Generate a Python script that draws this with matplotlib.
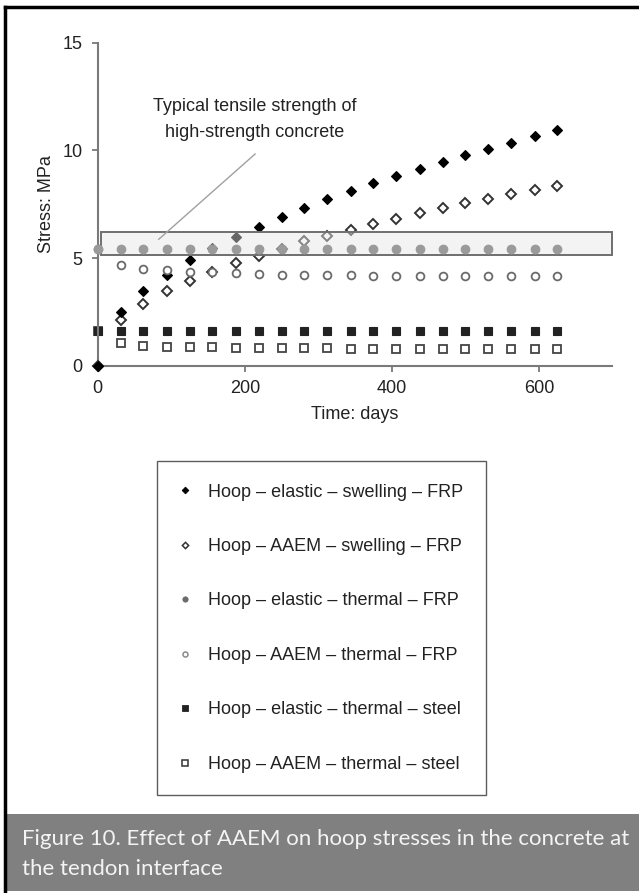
import matplotlib.pyplot as plt
from matplotlib.lines import Line2D
from matplotlib.patches import Rectangle

# time axis (days) shared by every series
days = [0, 31, 62, 94, 125, 156, 188, 219, 250, 281, 312,
        344, 375, 406, 438, 469, 500, 531, 562, 594, 625]

# hoop stress, MPa
elastic_swelling_frp = [0, 2.48, 3.45, 4.21, 4.89, 5.45, 5.99, 6.44, 6.9, 7.34, 7.72,
                        8.11, 8.47, 8.82, 9.15, 9.47, 9.77, 10.08, 10.36, 10.65, 10.93]
aaem_swelling_frp = [0, 2.1, 2.86, 3.47, 3.95, 4.33, 4.77, 5.08, 5.42, 5.77, 6.02,
                     6.3, 6.56, 6.83, 7.07, 7.31, 7.54, 7.76, 7.96, 8.16, 8.36]
elastic_thermal_frp = [5.42, 5.42, 5.42, 5.42, 5.42, 5.42, 5.42, 5.42, 5.42, 5.42, 5.42,
                       5.42, 5.42, 5.42, 5.42, 5.42, 5.42, 5.42, 5.42, 5.42, 5.42]
aaem_thermal_frp = [5.42, 4.66, 4.5, 4.44, 4.37, 4.34, 4.29, 4.26, 4.23, 4.21, 4.21,
                    4.2, 4.18, 4.18, 4.17, 4.17, 4.15, 4.15, 4.15, 4.15, 4.15]
elastic_thermal_steel = [1.61, 1.61, 1.61, 1.61, 1.61, 1.61, 1.61, 1.61, 1.61, 1.61, 1.61,
                         1.61, 1.61, 1.61, 1.61, 1.61, 1.61, 1.61, 1.61, 1.61, 1.61]
aaem_thermal_steel = [1.61, 1.04, 0.93, 0.88, 0.85, 0.85, 0.82, 0.82, 0.81, 0.8, 0.8,
                      0.79, 0.79, 0.78, 0.78, 0.78, 0.77, 0.77, 0.77, 0.77, 0.77]

labels = ["Hoop \u2013 elastic \u2013 swelling \u2013 FRP",
          "Hoop \u2013 AAEM \u2013 swelling \u2013 FRP",
          "Hoop \u2013 elastic \u2013 thermal \u2013 FRP",
          "Hoop \u2013 AAEM \u2013 thermal \u2013 FRP",
          "Hoop \u2013 elastic \u2013 thermal \u2013 steel",
          "Hoop \u2013 AAEM \u2013 thermal \u2013 steel"]

# tensile strength band
band_low = 5.15
band_high = 6.2
band_start = 4
band_end = 700

caption_lines = ["Figure 10. Effect of AAEM on hoop stresses in the concrete at",
                 "the tendon interface"]

plt.rcParams['font.family'] = ['Liberation Sans', 'DejaVu Sans']
FS = 13

fig = plt.figure(figsize=(6.39, 8.93), dpi=100)
ax = fig.add_axes([0.1529, 0.5905, 0.8056, 0.3617])

series = [elastic_swelling_frp, aaem_swelling_frp, elastic_thermal_frp,
          aaem_thermal_frp, elastic_thermal_steel, aaem_thermal_steel]
styles = [
    dict(marker='D', ms=5.2, mfc='black', mec='black', mew=0.8),
    dict(marker='D', ms=4.6, mfc='white', mec='#333333', mew=1.4),
    dict(marker='o', ms=6.2, mfc='#9a9a9a', mec='#9a9a9a', mew=0.8),
    dict(marker='o', ms=5.6, mfc='white', mec='#6a6a6a', mew=1.3),
    dict(marker='s', ms=6.4, mfc='#222222', mec='#222222', mew=0.8),
    dict(marker='s', ms=5.8, mfc='white', mec='#444444', mew=1.3),
]
# draw order so the overlaps look like the original; grey dots sit over the band
zorders = [4, 3, 12, 5, 2, 1]
for i in range(len(series)):
    ax.plot(days, series[i], linestyle='none', clip_on=False, zorder=zorders[i],
            **styles[i])

ax.add_patch(Rectangle((band_start, band_low), band_end - band_start, band_high - band_low,
                       facecolor='#e6e6e6', alpha=0.45, edgecolor='none', zorder=10,
                       clip_on=False))
ax.add_patch(Rectangle((band_start, band_low), band_end - band_start, band_high - band_low,
                       facecolor='none', edgecolor='#6f6f6f', lw=1.4, zorder=11,
                       clip_on=False))

ax.plot([83, 214], [5.87, 9.83], color='#a0a0a0', lw=1.0, zorder=12)
ax.text(214, 11.43, "Typical tensile strength of\nhigh-strength concrete",
        ha='center', va='center', fontsize=FS, linespacing=1.75, color='#222222')

ax.set_xlim(0, 700)
ax.set_ylim(0, 15)
ax.set_xticks([0, 200, 400, 600])
ax.set_yticks([0, 5, 10, 15])
for s in ['top', 'right']:
    ax.spines[s].set_visible(False)
for s in ['left', 'bottom']:
    ax.spines[s].set_color('#7a7a7a')
    ax.spines[s].set_linewidth(1.5)
ax.tick_params(direction='out', length=4, width=1.3, color='#7a7a7a',
               labelsize=FS, labelcolor='#222222')
ax.tick_params(axis='x', pad=6)
ax.tick_params(axis='y', pad=7)
ax.set_xlabel("Time: days", fontsize=FS, color='#222222', labelpad=7)
ax.set_ylabel("Stress: MPa", fontsize=FS, color='#222222', labelpad=5)

# legend
leg_styles = [
    dict(marker='D', ms=3.4, mfc='black', mec='black', mew=0.6),
    dict(marker='D', ms=3.2, mfc='white', mec='#333333', mew=1.1),
    dict(marker='o', ms=3.8, mfc='#6a6a6a', mec='#6a6a6a', mew=0.6),
    dict(marker='o', ms=3.6, mfc='white', mec='#8a8a8a', mew=1.1),
    dict(marker='s', ms=4.0, mfc='#222222', mec='#222222', mew=0.6),
    dict(marker='s', ms=3.8, mfc='white', mec='#333333', mew=1.1),
]
handles = [Line2D([], [], linestyle='none', **st) for st in leg_styles]
leg = fig.legend(handles, labels, loc='upper left', bbox_to_anchor=(0.2457, 0.4838),
                 frameon=True, fancybox=False, fontsize=FS, labelspacing=2.075,
                 borderpad=1.25, handlelength=0.6, handletextpad=1.0, borderaxespad=0,
                 labelcolor='#222222')
leg.get_frame().set_edgecolor('#333333')
leg.get_frame().set_linewidth(1.0)

# caption bar and page frame
fig.patches.append(Rectangle((6 / 639, 0.002), 1 - 6 / 639, 0.0865,
                             transform=fig.transFigure, facecolor='#808080',
                             edgecolor='none', zorder=0))
for k, line in enumerate(caption_lines):
    fig.text(22 / 639, 1 - (845 + 30 * k) / 893, line, fontsize=16, color='#f4f4f4',
             family=['Lato', 'DejaVu Sans'], va='baseline')
fig.add_artist(Line2D([5 / 639, 1], [1 - 7 / 893, 1 - 7 / 893], color='black', lw=2.5,
                      transform=fig.transFigure))
fig.add_artist(Line2D([5 / 639, 5 / 639], [0, 1 - 7 / 893], color='black', lw=2.5,
                      transform=fig.transFigure))

fig.savefig("out.png", dpi=100)
